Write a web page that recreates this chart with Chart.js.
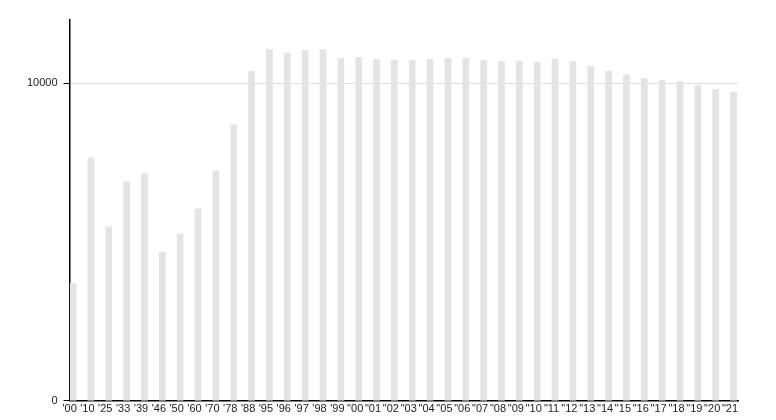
<!DOCTYPE html>
<html>
<head>
<meta charset="utf-8">
<script src="https://cdn.jsdelivr.net/npm/chart.js@4"></script>
<style>
  html, body { margin: 0; padding: 0; background: #fff; }
  #wrap { width: 776px; height: 420px; }
</style>
</head>
<body>
<div id="wrap"><canvas id="bars"></canvas></div>
<script>
// year labels as shown under the bars
const years = ["'00", "'10", "'25", "'33", "'39", "'46", "'50", "'60", "'70", "'78",
    "'88", "'95", "'96", "'97", "'98", "'99",
    '"00', '"01', '"02', '"03', '"04', '"05', '"06', '"07', '"08', '"09', '"10',
    '"11', '"12', '"13', '"14', '"15', '"16', '"17', '"18', '"19', '"20', '"21'];

// values
const values = [3700, 7660, 5480, 6900, 7150, 4680, 5250, 6050, 7250, 8700,
    10380, 11070, 10950, 11040, 11070, 10790,
    10820, 10760, 10730, 10730, 10760, 10790, 10790, 10730, 10700, 10700, 10670,
    10760, 10700, 10540, 10380, 10280, 10160, 10110, 10060, 9940, 9810, 9720];

const yTicks = [0, 10000];
const yMax = 12000;

const points = values.map((v, i) => ({ x: i, y: v }));

Chart.defaults.font.family = "'Liberation Sans', Arial, sans-serif";
Chart.defaults.font.size = 11;
Chart.defaults.color = '#222';

const ctx = document.getElementById('bars').getContext('2d');
new Chart(ctx, {
    type: 'bar',
    data: {
        datasets: [{
            data: points,
            backgroundColor: '#e4e4e4',
            borderWidth: 0,
            barThickness: 6
        }]
    },
    options: {
        responsive: true,
        maintainAspectRatio: false,
        animation: false,
        layout: { padding: { top: 20, right: 38, left: 21, bottom: 2 } },
        plugins: { legend: { display: false }, tooltip: { enabled: false } },
        scales: {
            x: {
                type: 'linear',
                offset: false,
                min: -0.196,
                max: 37.25,
                afterBuildTicks: s => { s.ticks = years.map((_, i) => ({ value: i })); },
                grid: { display: false, drawTicks: false, offset: false },
                border: { display: true, color: '#000', width: 1.5 },
                ticks: {
                    autoSkip: false,
                    maxRotation: 0,
                    padding: 2,
                    labelOffset: -3.5,
                    callback: v => years[v]
                }
            },
            y: {
                min: 0,
                max: yMax,
                afterBuildTicks: s => { s.ticks = yTicks.map(v => ({ value: v })); },
                grid: {
                    color: c => c.tick && c.tick.value === 0 ? 'rgba(0,0,0,0)' : '#dedede',
                    tickColor: '#000',
                    tickLength: 6
                },
                border: { display: true, color: '#000', width: 1.5 },
                ticks: { padding: 6, callback: v => String(v) }
            }
        }
    }
});
</script>
</body>
</html>
